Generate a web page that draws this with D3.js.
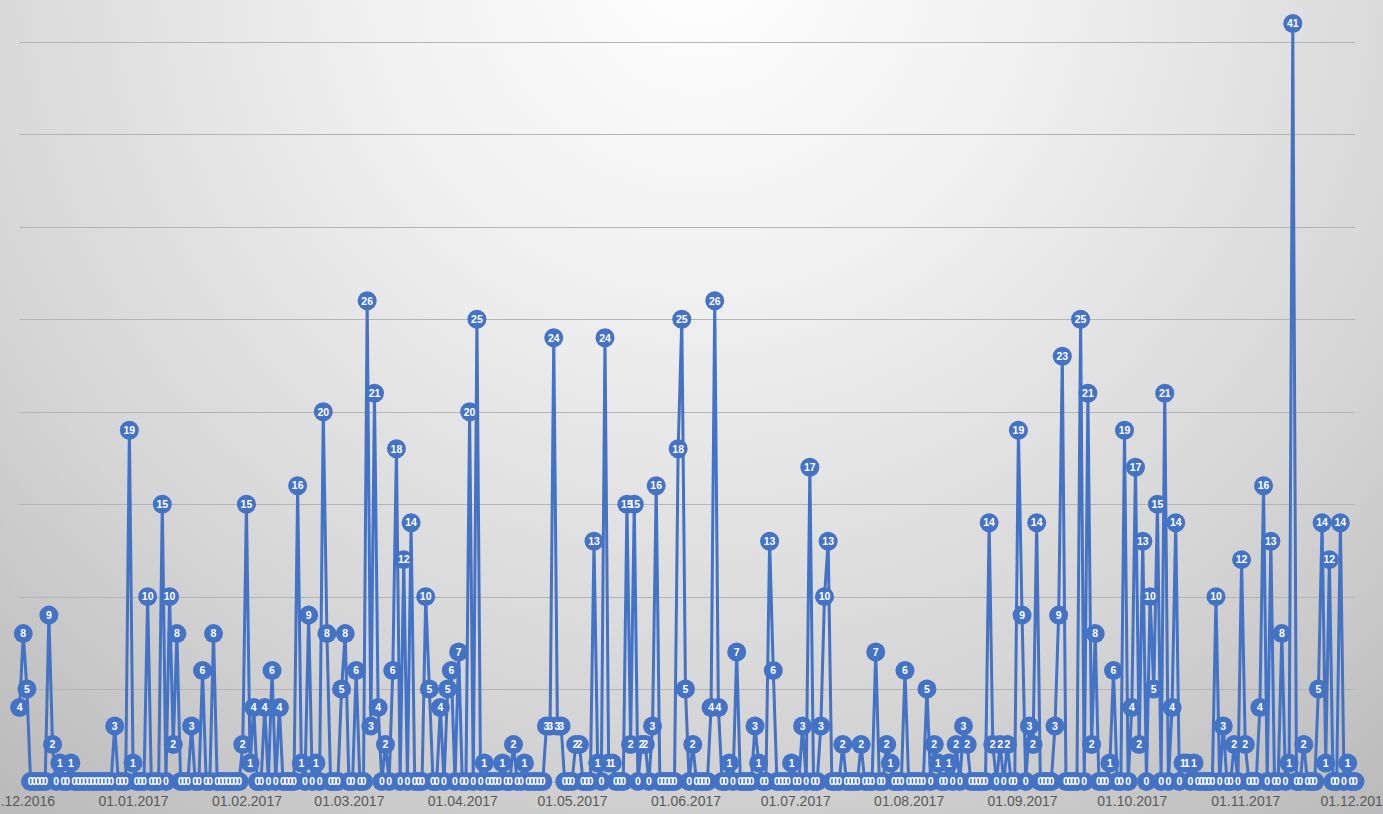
<!DOCTYPE html>
<html>
<head>
<meta charset="utf-8">
<script src="https://cdn.jsdelivr.net/npm/d3@7"></script>
<style>
  html, body { margin: 0; padding: 0; overflow: hidden; background: #ffffff; }
  svg { display: block; }
</style>
</head>
<body>
<svg id="chart" width="1383" height="814"></svg>
<script>
// Daily counts, one array per month (first day of the series: 01.12.2016)
const startDate = "2016-12-01";
const dec2016 = [4,8,5,0,0,0,0,0,9,2,0,1,0,0,1,0,0,0,0,0,0,0,0,0,0,0,3,0,0,0,19];
const jan2017 = [1,0,0,0,10,0,0,0,15,0,10,2,8,0,0,0,3,0,0,6,0,0,8,0,0,0,0,0,0,0,2];
const feb2017 = [15,1,4,0,0,4,0,6,0,4,0,0,0,0,16,1,0,9,0,1,0,20,8,0,0,0,5,8];
const mar2017 = [0,0,6,0,0,26,3,21,4,0,2,0,6,18,0,12,0,14,0,0,0,10,5,0,0,4,0,5,6,0,7];
const apr2017 = [0,0,20,0,25,0,1,0,0,0,0,1,0,0,2,0,0,1,0,0,0,0,0,3,3,24,3,3,0,0];
const may2017 = [0,2,2,0,0,0,13,1,0,24,1,1,0,0,0,15,2,15,0,2,2,0,3,16,0,0,0,0,0,18,25];
const jun2017 = [5,0,2,0,0,0,0,4,26,4,0,0,1,0,7,0,0,0,0,3,1,0,0,13,6,0,0,0,0,1];
const jul2017 = [0,0,3,0,17,0,0,3,10,13,0,0,0,2,0,0,0,0,2,0,0,0,7,0,0,2,1,0,0,0,6];
const aug2017 = [0,0,0,0,0,5,0,2,1,0,0,1,0,2,0,3,2,0,0,0,0,0,14,2,0,2,0,2,0,0,19];
const sep2017 = [9,0,3,2,14,0,0,0,0,3,9,23,0,0,0,0,25,0,21,2,8,0,0,0,1,6,0,0,19,0];
const oct2017 = [4,17,2,13,0,10,5,15,0,21,0,4,14,0,1,1,0,1,0,0,0,0,0,10,0,3,0,0,2,0,12];
const nov2017 = [2,0,0,0,4,16,0,13,0,0,8,0,1,41,0,0,2,0,0,0,5,14,1,12,0,0,14,0,1,0];
const dec2017 = [0];

// Axis settings
const gridValues = [0, 5, 10, 15, 20, 25, 30, 35, 40];
const tickFormat = "%d.%m.%Y";

const counts = [].concat(dec2016, jan2017, feb2017, mar2017, apr2017, may2017,
                         jun2017, jul2017, aug2017, sep2017, oct2017, nov2017, dec2017);
const t0 = d3.utcParse("%Y-%m-%d")(startDate);
const data = counts.map((v, i) => ({ date: d3.utcDay.offset(t0, i), value: v }));

const W = 1383, H = 814;
const svg = d3.select("#chart");

// Soft radial background, light at the top centre and greyer towards the edges
const defs = svg.append("defs");
const bg = defs.append("radialGradient")
  .attr("id", "bg").attr("gradientUnits", "userSpaceOnUse")
  .attr("cx", 700).attr("cy", -40).attr("r", 1120);
bg.append("stop").attr("offset", "0%").attr("stop-color", "#ffffff");
bg.append("stop").attr("offset", "30%").attr("stop-color", "#f0f0f0");
bg.append("stop").attr("offset", "70%").attr("stop-color", "#d4d4d4");
bg.append("stop").attr("offset", "100%").attr("stop-color", "#b8b8b8");
svg.append("rect").attr("width", W).attr("height", H).attr("fill", "url(#bg)");

const x = d3.scaleUtc()
  .domain([t0, data[data.length - 1].date])
  .range([19.6, 1355]);
const y = d3.scaleLinear().domain([0, 40]).range([781.5, 42]);

// Horizontal gridlines
svg.append("g")
  .selectAll("line")
  .data(gridValues)
  .join("line")
  .attr("x1", x.range()[0]).attr("x2", x.range()[1])
  .attr("y1", d => Math.round(y(d)) + 0.5).attr("y2", d => Math.round(y(d)) + 0.5)
  .attr("stroke", "#b4b4b4").attr("stroke-width", 1);

// Month labels along the bottom
const xAxis = svg.append("g")
  .attr("transform", `translate(0,${y(0)})`)
  .call(d3.axisBottom(x)
    .ticks(d3.utcMonth.every(1))
    .tickFormat(d3.utcFormat(tickFormat))
    .tickSize(0)
    .tickPadding(15));
xAxis.select(".domain").remove();
xAxis.selectAll("text")
  .attr("fill", "#595959")
  .style("font-family", "'Liberation Sans', Arial, sans-serif")
  .style("font-size", "14px");

// Series line
const line = d3.line().x(d => x(d.date)).y(d => y(d.value));
svg.append("path")
  .datum(data)
  .attr("d", line)
  .attr("fill", "none")
  .attr("stroke", "#4472c4")
  .attr("stroke-width", 3)
  .attr("stroke-linejoin", "round");

// Round markers
svg.append("g")
  .selectAll("circle")
  .data(data)
  .join("circle")
  .attr("cx", d => x(d.date))
  .attr("cy", d => y(d.value))
  .attr("r", 9.5)
  .attr("fill", "#4472c4");

// Value labels inside the markers
svg.append("g")
  .selectAll("text")
  .data(data)
  .join("text")
  .attr("x", d => x(d.date))
  .attr("y", d => y(d.value))
  .attr("dy", "0.36em")
  .attr("text-anchor", "middle")
  .attr("fill", "#ffffff")
  .style("font-family", "'Liberation Sans', Arial, sans-serif")
  .style("font-weight", "bold")
  .style("font-size", "10.5px")
  .text(d => d.value);
</script>
</body>
</html>
